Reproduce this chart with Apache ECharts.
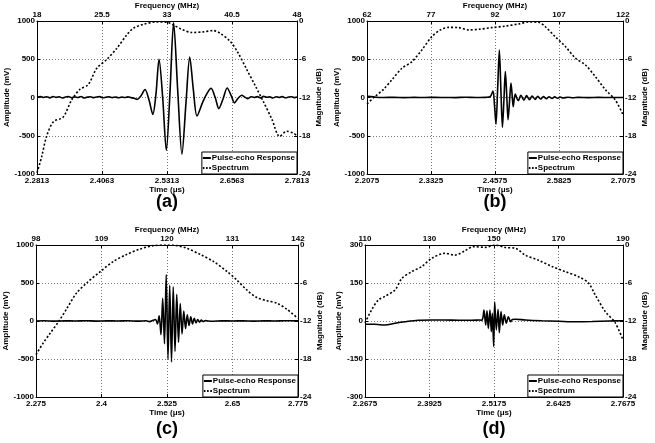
<!DOCTYPE html>
<html>
<head>
<meta charset="utf-8">
<script src="https://cdn.jsdelivr.net/npm/echarts@6/dist/echarts.min.js"></script>
<style>html,body{margin:0;padding:0;background:#fff;}#c{width:655px;height:443px;}</style>
</head>
<body>
<div id="c"></div>
<script>
// ---------- tick labels ----------
const aTimeTicks = [2.2813, 2.4063, 2.5313, 2.6563, 2.7813];
const aFreqTicks = [18, 25.5, 33, 40.5, 48];
const bTimeTicks = [2.2075, 2.3325, 2.4575, 2.5825, 2.7075];
const bFreqTicks = [62, 77, 92, 107, 122];
const cTimeTicks = [2.275, 2.4, 2.525, 2.65, 2.775];
const cFreqTicks = [98, 109, 120, 131, 142];
const dTimeTicks = [2.2675, 2.3925, 2.5175, 2.6425, 2.7675];
const dFreqTicks = [110, 130, 150, 170, 190];
const ampTicksWide = [-1000, -500, 0, 500, 1000];
const ampTicksNarrow = [-300, -150, 0, 150, 300];
const dbTicks = [-24, -18, -12, -6, 0];

// ---------- series names ----------
const pulseName = 'Pulse-echo Response';
const specName = 'Spectrum';

// ---------- (a) ----------
const aPulse = [[2.2813,5],[2.288,12],[2.294,0],[2.300,10],[2.306,-5],[2.312,14],[2.318,2],[2.324,9],[2.330,-7],[2.336,6],[2.342,12],[2.348,-3],[2.354,8],[2.360,0],[2.366,13],[2.372,-6],[2.378,5],[2.384,10],[2.390,-2],[2.396,7],[2.402,11],[2.408,-4],[2.414,4],[2.420,9],[2.426,-1],[2.432,6],[2.438,-3],[2.444,5],[2.450,0],[2.456,8],[2.462,-2],[2.468,-10],[2.474,-25],[2.481,20],[2.489,105],[2.497,-40],[2.504,-220],[2.510,40],[2.516,500],[2.523,0],[2.530,-690],[2.537,60],[2.544,980],[2.552,80],[2.560,-740],[2.568,-50],[2.575,530],[2.582,100],[2.589,-240],[2.600,-60],[2.608,50],[2.616,120],[2.624,0],[2.631,-145],[2.639,-20],[2.647,125],[2.655,20],[2.661,-70],[2.668,-10],[2.675,30],[2.681,5],[2.687,-15],[2.693,10],[2.699,0],[2.705,12],[2.711,-5],[2.717,15],[2.723,3],[2.729,8],[2.735,-6],[2.741,10],[2.747,0],[2.753,12],[2.759,-4],[2.765,6],[2.771,10],[2.777,-2],[2.7813,5]];
const aSpec = [[18,-23.8],[18.54,-21.3],[19.1,-18.1],[19.9,-15.8],[21.0,-15.1],[22.0,-12.4],[22.96,-10.7],[23.9,-10.0],[24.9,-7.4],[26.0,-6.1],[27.2,-4.3],[28.35,-2.2],[29.1,-1.15],[30.3,-0.5],[31.8,-0.15],[33.0,-0.2],[33.7,-0.6],[34.7,-1.3],[35.85,-1.8],[37.2,-1.7],[38.35,-1.5],[39.1,-1.9],[40.3,-3.2],[41.2,-5.0],[42.2,-7.6],[43.2,-10.2],[44.1,-12.6],[45.1,-15.4],[46.0,-18.1],[46.8,-17.3],[47.6,-17.6],[48,-18.0]];

// ---------- (b) ----------
const bPulse = [[2.2075,15],[2.215,12],[2.225,3],[2.24,0],[2.26,2],[2.28,-1],[2.30,1],[2.32,0],[2.34,2],[2.36,0],[2.38,-1],[2.40,3],[2.42,0],[2.44,2],[2.448,10],[2.4536,85],[2.4565,-100],[2.4594,-350],[2.4627,120],[2.466,620],[2.469,100],[2.472,-390],[2.475,-20],[2.4777,340],[2.4805,20],[2.483,-290],[2.486,-40],[2.4887,190],[2.491,30],[2.493,-120],[2.495,-20],[2.4972,45],[2.500,-10],[2.503,-40],[2.508,30],[2.514,-35],[2.519,25],[2.525,-30],[2.530,20],[2.536,-25],[2.541,15],[2.547,-20],[2.552,12],[2.558,-15],[2.563,10],[2.569,-12],[2.574,8],[2.580,-10],[2.585,6],[2.590,-6],[2.600,3],[2.610,-3],[2.620,2],[2.640,-2],[2.660,1],[2.680,0],[2.7075,0]];
const bSpec = [[62,-13.0],[63.95,-11.8],[65.9,-10.7],[67.86,-9.2],[70.2,-7.4],[72.5,-6.4],[74.9,-4.5],[77.2,-2.45],[79.2,-1.4],[81.1,-1.0],[83.5,-1.04],[85.8,-1.4],[88.2,-1.3],[91.3,-1.04],[94.4,-0.8],[97.5,-0.47],[99.9,-0.16],[102.2,-0.2],[103.8,-0.9],[106.1,-2.45],[108.5,-4.0],[110.8,-5.8],[113.2,-6.9],[115.5,-8.7],[117.9,-10.8],[120.2,-12.4],[122,-14.7]];

// ---------- (c) ----------
const cPulse = [[2.275,0],[2.29,3],[2.31,-2],[2.33,2],[2.35,0],[2.37,3],[2.39,-1],[2.41,2],[2.43,0],[2.45,3],[2.47,-2],[2.485,4],[2.492,-8],[2.4985,10],[2.5034,20],[2.5068,-40],[2.5101,70],[2.5135,-180],[2.5168,300],[2.5202,-300],[2.5235,610],[2.5269,-500],[2.5302,470],[2.5336,-540],[2.5369,450],[2.5403,-400],[2.5436,350],[2.547,-280],[2.5503,230],[2.5537,-170],[2.557,130],[2.5604,-100],[2.5637,80],[2.5671,-60],[2.5704,55],[2.5738,-40],[2.5771,35],[2.5805,-25],[2.5838,20],[2.5872,-15],[2.5905,12],[2.5939,-8],[2.598,5],[2.61,-3],[2.63,2],[2.65,0],[2.67,2],[2.69,-1],[2.71,2],[2.73,0],[2.75,3],[2.775,2]];
const cSpec = [[98,-17.3],[99.2,-15.5],[100.4,-13.9],[101.8,-12.1],[103.2,-10.0],[104.8,-7.6],[106.5,-6.0],[108.8,-4.2],[111.0,-2.6],[113.2,-1.5],[115.5,-0.63],[117.7,-0.1],[120,0],[121.7,-0.1],[123.3,-0.5],[125.6,-1.5],[127.8,-2.6],[130.1,-4.2],[131.7,-5.5],[133.4,-7.1],[135.1,-8.3],[136.8,-8.8],[138.5,-9.2],[140.2,-10.2],[142,-11.6]];

// ---------- (d) ----------
const dPulse = [[2.2675,-13],[2.2869,-13],[2.3063,-16],[2.3257,-9],[2.3451,-3],[2.3710,3],[2.3969,4],[2.4228,4],[2.4487,3],[2.4745,3],[2.4907,4],[2.4936,2],[2.4962,15],[2.4981,43],[2.5014,-16],[2.5039,40],[2.5065,-29],[2.5097,43],[2.5123,-42],[2.5143,30],[2.5169,-101],[2.5188,76],[2.5220,-35],[2.5253,46],[2.5278,-46],[2.5311,37],[2.5343,-16],[2.5375,24],[2.5414,-9],[2.5453,17],[2.5498,-3],[2.5530,6],[2.5587,7],[2.5781,4],[2.6104,1],[2.6428,-1],[2.6751,-3],[2.7075,-2],[2.7398,0],[2.7675,1]];
const dSpec = [[110,-12.3],[112.1,-10.2],[114.1,-8.7],[116.2,-8.1],[119.3,-7.1],[121.4,-5.3],[124.5,-4.2],[127.6,-3.4],[130.7,-2.1],[134.8,-1.3],[137.9,-1.6],[141.0,-0.9],[143.6,-0.26],[147.3,-0.37],[150.4,0],[153.5,-0.4],[156.6,-0.5],[159.7,-1.6],[163.8,-2.4],[168.0,-3.4],[172.1,-4.2],[176.2,-5.0],[179.3,-6.0],[181.4,-7.9],[184.5,-10.5],[187.6,-12.3],[190,-15.0]];

// ---------- layout (positions & styles only) ----------
const FONT = 'Liberation Sans, Arial, sans-serif';
const layout = [
  {grid:{left:37, top:21, width:260, height:153}, leftGap:21, rightGap:14, tag:'(a)', tx:167, ty:202},
  {grid:{left:367, top:21, width:256, height:153}, leftGap:21, rightGap:14, tag:'(b)', tx:495, ty:202},
  {grid:{left:36, top:245, width:262, height:152}, leftGap:20, rightGap:13, tag:'(c)', tx:167, ty:429},
  {grid:{left:365, top:245, width:258, height:152}, leftGap:17, rightGap:14, tag:'(d)', tx:494, ty:429}
];
const panelData = [
  {time:aTimeTicks, freq:aFreqTicks, amp:ampTicksWide, pulse:aPulse, spec:aSpec},
  {time:bTimeTicks, freq:bFreqTicks, amp:ampTicksWide, pulse:bPulse, spec:bSpec},
  {time:cTimeTicks, freq:cFreqTicks, amp:ampTicksWide, pulse:cPulse, spec:cSpec},
  {time:dTimeTicks, freq:dFreqTicks, amp:ampTicksNarrow, pulse:dPulse, spec:dSpec}
];

const txt = {color:'#000', fontSize:8, fontWeight:'bold', fontFamily:FONT};
function axisCfg(gridIndex, ticks, position, name, gap, margin, split, rotate) {
  const cfg = {
    type:'value', gridIndex, position,
    min:ticks[0], max:ticks[ticks.length-1],
    name, nameLocation:'middle', nameGap:gap,
    nameTextStyle:Object.assign({}, txt),
    axisLine:{show:true, onZero:false, lineStyle:{color:'#000', width:1}},
    axisTick:{show:true, inside:true, length:3, customValues:ticks, lineStyle:{color:'#000', width:1}},
    axisLabel:Object.assign({customValues:ticks, margin, formatter:v=>String(v), showMinLabel:true, showMaxLabel:true}, txt),
    splitLine:{show:split, lineStyle:{color:'#7a7a7a', width:1, type:[1,2]}}
  };
  if (rotate !== undefined) cfg.nameRotate = rotate;
  return cfg;
}

const SOLID_ICON = 'path://M0,0H8V2H0Z';
const DOT_ICON = 'path://M0,0H1.6V2H0Z M3.2,0H4.8V2H3.2Z M6.4,0H8V2H6.4Z';

const grids=[], xAxes=[], yAxes=[], series=[], legends=[], graphics=[];
layout.forEach((L, i) => {
  const P = panelData[i];
  grids.push(Object.assign({containLabel:false}, L.grid));
  xAxes.push(axisCfg(i, P.time, 'bottom', 'Time (\u03bcs)', 8, 3, true));
  xAxes.push(axisCfg(i, P.freq, 'top', 'Frequency (MHz)', 8, 2, false));
  yAxes.push(axisCfg(i, P.amp, 'left', 'Amplitude (mV)', L.leftGap, 2, true, 90));
  yAxes.push(axisCfg(i, dbTicks, 'right', 'Magnitude (dB)', L.rightGap, 2, false, 90));
  series.push({
    name:specName, type:'line', xAxisIndex:2*i+1, yAxisIndex:2*i+1,
    data:P.spec, showSymbol:false, symbol:'none', smooth:0.3,
    lineStyle:{color:'#000', width:1.6, type:[2,2]}, itemStyle:{color:'#000'},
    animation:false, z:2
  });
  series.push({
    name:pulseName, type:'line', xAxisIndex:2*i, yAxisIndex:2*i,
    data:P.pulse, showSymbol:false, symbol:'none', smooth:0.3,
    lineStyle:{color:'#000', width:1.6, type:'solid'}, itemStyle:{color:'#000'},
    animation:false, z:3
  });
  legends.push({
    data:[{name:pulseName, icon:SOLID_ICON}, {name:specName, icon:DOT_ICON}],
    orient:'vertical',
    right:655 - (L.grid.left + L.grid.width), bottom:443 - (L.grid.top + L.grid.height),
    backgroundColor:'#fff', borderColor:'#000', borderWidth:1, borderRadius:0,
    padding:[1,2,1,1], itemGap:0, itemWidth:8, itemHeight:2,
    itemStyle:{color:'#000', borderWidth:0},
    textStyle:Object.assign({}, txt, {padding:[0,0,0,-4], lineHeight:10}),
    selectedMode:false, z:10
  });
  graphics.push({
    type:'text', x:L.tx, y:L.ty, z:20,
    style:{text:L.tag, textAlign:'center', textVerticalAlign:'middle', fill:'#000', font:'bold 18px ' + FONT}
  });
});

const chart = echarts.init(document.getElementById('c'), null, {renderer:'canvas'});
chart.setOption({
  animation:false,
  backgroundColor:'#fff',
  grid:grids, xAxis:xAxes, yAxis:yAxes, series, legend:legends,
  graphic:graphics
});
</script>
</body>
</html>
